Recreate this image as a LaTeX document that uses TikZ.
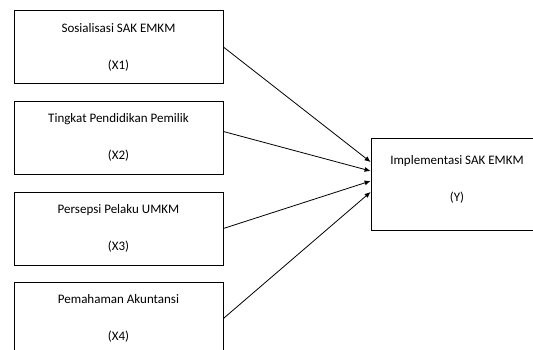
\documentclass[tikz,border=0pt]{standalone}
\usepackage{fontspec}
\setmainfont{Carlito}
\usetikzlibrary{arrows.meta}
\begin{document}
\begin{tikzpicture}[x=1pt,y=-1pt,
  var/.style={draw, line width=0.8pt, minimum width=209pt, minimum height=73pt, align=center, inner sep=0pt, font=\fontsize{13}{37}\selectfont},
  dep/.style={draw, line width=0.8pt, minimum width=172pt, minimum height=92pt, align=center, inner sep=0pt, text depth=11pt, font=\fontsize{13}{37}\selectfont},
  pengaruh/.style={-{Latex[length=6pt,width=5pt]}, line width=0.8pt}]
\useasboundingbox (0,0) rectangle (533,350);
\node[var] (x1) at (118.5,47){Sosialisasi SAK EMKM\\(X1)};
\node[var] (x2) at (118.5,137.5){Tingkat Pendidikan Pemilik\\(X2)};
\node[var] (x3) at (118.5,228.5){Persepsi Pelaku UMKM\\(X3)};
\node[var] (x4) at (118.5,318.5){Pemahaman Akuntansi\\(X4)};
\node[dep] (y) at (457,184){Implementasi SAK EMKM\\(Y)};
\draw[pengaruh](x1.east) -- ([yshift=22pt]y.west);
\draw[pengaruh]([yshift=6pt]x2.east) -- ([yshift=13pt]y.west);
\draw[pengaruh](x3.east) -- ([yshift=3pt]y.west);
\draw[pengaruh](x4.east) -- ([yshift=-8pt]y.west);
\end{tikzpicture}
\end{document}
